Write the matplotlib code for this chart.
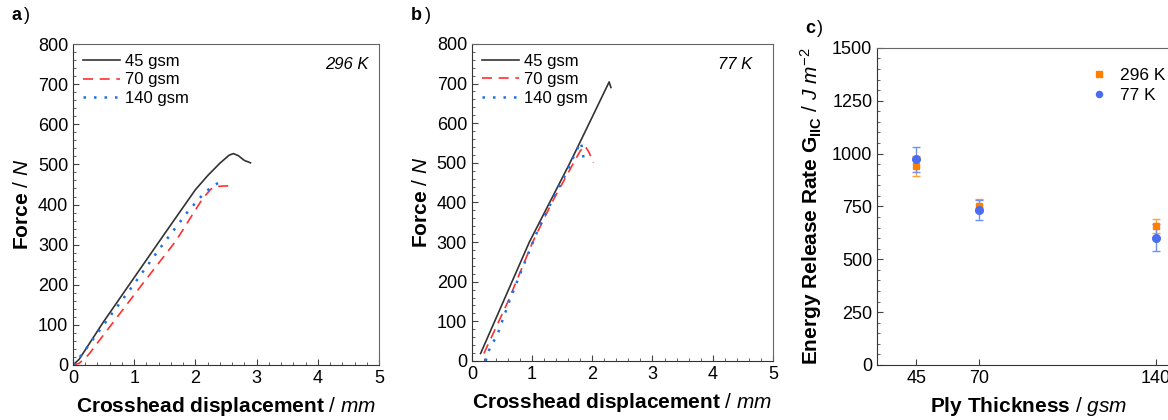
import numpy as np
import matplotlib
matplotlib.use("Agg")
import matplotlib.pyplot as plt
from matplotlib.ticker import MultipleLocator, AutoMinorLocator

plt.rcParams['font.family'] = ['Liberation Sans', 'DejaVu Sans']
plt.rcParams['mathtext.fontset'] = 'custom'
plt.rcParams['mathtext.rm'] = 'Liberation Sans'
plt.rcParams['mathtext.it'] = 'Liberation Sans:italic'
plt.rcParams['mathtext.bf'] = 'Liberation Sans:bold'

# a) 296 K  force-displacement curves
a_x45 = [0, 0.1, 0.5, 1.0, 1.5, 2.0, 2.2, 2.4, 2.55, 2.62, 2.7, 2.8, 2.9]
a_y45 = [0, 14, 108, 218, 328, 437, 472, 503, 523, 527, 522, 510, 504]
a_x70 = [0, 0.1, 0.25, 0.6, 1.13, 1.68, 2.11, 2.25, 2.32, 2.45, 2.59]
a_y70 = [0, 4, 25, 95, 201, 309, 413, 438, 445, 446, 447]
a_x140 = [0, 0.15, 0.5, 0.96, 1.42, 1.89, 2.14, 2.29, 2.46]
a_y140 = [0, 27, 100, 194, 291, 385, 428, 447, 461]

# b) 77 K
b_x45 = [0.145, 0.955, 1.63, 1.95, 2.28, 2.31]
b_y45 = [19, 300, 500, 600, 704, 690]
b_x70 = [0.2, 0.6, 1.01, 1.33, 1.69, 1.8, 1.88, 1.95, 2.02]
b_y70 = [19, 150, 300, 400, 500, 530, 543, 525, 500]
b_x140 = [0.23, 0.27, 0.43, 0.63, 0.86, 1.12, 1.41, 1.58, 1.72, 1.81, 1.84, 1.86]
b_y140 = [0, 23, 69, 154, 242, 339, 428, 478, 525, 552, 530, 504]

# c) energy release rate
gsm = [45, 70, 140]
g_296 = [941, 753, 657]
e_296 = [48, 30, 32]
g_77 = [972, 733, 602]
e_77 = [59, 49, 63]

labels = ['45 gsm', '70 gsm', '140 gsm']

fig = plt.figure(figsize=(11.68, 4.2), dpi=100)

def style_ticks(ax):
    ax.tick_params(which='both', direction='in', top=False, right=False,
                   labelsize=13, color='#444444')
    ax.tick_params(which='major', length=4)
    ax.tick_params(which='minor', length=2)
    for s in ax.spines.values():
        s.set_color('#666666')
    ax.spines['left'].set_color('#333333')
    ax.spines['bottom'].set_color('#333333')

def style_force(ax):
    ax.set_xlim(0, 5)
    ax.set_ylim(0, 800)
    ax.xaxis.set_major_locator(MultipleLocator(1))
    ax.yaxis.set_major_locator(MultipleLocator(100))
    ax.xaxis.set_minor_locator(AutoMinorLocator(5))
    ax.yaxis.set_minor_locator(AutoMinorLocator(5))
    style_ticks(ax)
    ax.set_xlabel(r'$\mathbf{Crosshead\ displacement}$ / $\mathit{mm}$',
                  fontsize=15, labelpad=6)
    ax.set_ylabel(r'$\mathbf{Force}$ / $\mathit{N}$', fontsize=15, labelpad=4)

def curves(ax, xs, ys):
    ax.plot(xs[0], ys[0], color='#333333', lw=1.2, ls='-', label=labels[0])
    ax.plot(xs[1], ys[1], color='#ff3030', lw=1.2, ls=(0, (6, 4)), label=labels[1])
    ax.plot(xs[2], ys[2], color='#1e6fe6', lw=1.8, ls=(0, (1, 3.2)), label=labels[2])
    ax.legend(loc='upper left', frameon=False, fontsize=12, handlelength=2.2,
              handletextpad=0.3, labelspacing=0.2, borderaxespad=0.3,
              borderpad=0.3)

ax1 = fig.add_axes([0.0625, 0.131, 0.262, 0.764])
curves(ax1, [a_x45, a_x70, a_x140], [a_y45, a_y70, a_y140])
style_force(ax1)
ax1.text(0.965, 0.935, '296 K', transform=ax1.transAxes, ha='right', va='center',
         fontsize=12, style='italic')
fig.text(0.010, 0.952, 'a', fontsize=13, fontweight='bold')
fig.text(0.0205, 0.952, ')', fontsize=13)

ax2 = fig.add_axes([0.404, 0.1405, 0.2577, 0.755])
curves(ax2, [b_x45, b_x70, b_x140], [b_y45, b_y70, b_y140])
style_force(ax2)
ax2.text(0.93, 0.935, '77 K', transform=ax2.transAxes, ha='right', va='center',
         fontsize=12, style='italic')
fig.text(0.352, 0.952, 'b', fontsize=13, fontweight='bold')
fig.text(0.3635, 0.952, ')', fontsize=13)

ax3 = fig.add_axes([0.751, 0.131, 0.26, 0.755])
ax3.errorbar(gsm, g_296, yerr=e_296, fmt='s', color='#ff8000', ecolor='#ffa040',
             ms=5, capsize=3, elinewidth=1, capthick=1, label='296 K')
ax3.errorbar(gsm, g_77, yerr=e_77, fmt='o', color='#4a6cf0', ecolor='#7090f5',
             ms=5.5, capsize=3, elinewidth=1, capthick=1, label='77 K')
ax3.set_xlim(29.5, 150)
ax3.set_ylim(0, 1500)
ax3.set_xticks(gsm)
ax3.yaxis.set_major_locator(MultipleLocator(250))
ax3.yaxis.set_minor_locator(AutoMinorLocator(5))
style_ticks(ax3)
ax3.set_xlabel(r'$\mathbf{Ply\ Thickness}$ / $\mathit{gsm}$', fontsize=15, labelpad=6)
ax3.set_ylabel(r'$\mathbf{Energy\ Release\ Rate\ G_{IIC}}$ / $\mathit{J\ m^{-2}}$',
               fontsize=15, labelpad=6)
h, l = ax3.get_legend_handles_labels()
h = [x[0] for x in h]
ax3.legend(h, l, loc='upper left', bbox_to_anchor=(0.652, 0.985), frameon=False,
           fontsize=12.5, handlelength=1.0, handletextpad=0.7, labelspacing=0.25,
           markerscale=0.8)
fig.text(0.689, 0.922, 'c', fontsize=13, fontweight='bold')
fig.text(0.6995, 0.922, ')', fontsize=13)

fig.savefig('out.png', dpi=100)
